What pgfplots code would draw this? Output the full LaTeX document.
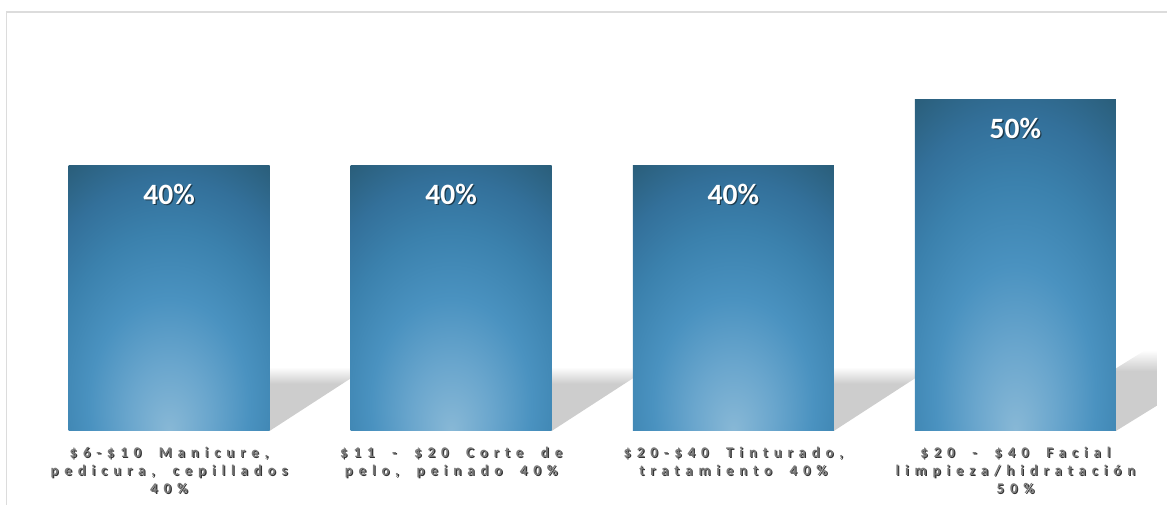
\documentclass[border=0pt]{standalone}
\usepackage{pgfplots}
\pgfplotsset{compat=1.18}
\usepackage{fontspec}
\setmainfont{Carlito}
\newfontfamily\lblfont{Carlito}[LetterSpace=40, WordSpace=1.9, BoldFont={Carlito Bold}]
\definecolor{b0}{HTML}{88B8D6}
\definecolor{b1}{HTML}{6AA6CD}
\definecolor{b2}{HTML}{4A92C0}
\definecolor{b3}{HTML}{3B81AD}
\definecolor{b4}{HTML}{33709A}
\definecolor{b5}{HTML}{2A5E7A}
\definecolor{b6}{HTML}{275873}
\definecolor{shc}{HTML}{CDCDCD}
\definecolor{lblc}{HTML}{7A7A7A}
\definecolor{lshc}{HTML}{333333}
\definecolor{dshc}{HTML}{1D3A4C}
\definecolor{framec}{HTML}{DCDCDC}
\pgfdeclareradialshading{barsh}{\pgfpoint{0bp}{-25bp}}{color(0bp)=(b0); color(10bp)=(b1); color(20bp)=(b2); color(30bp)=(b3); color(38bp)=(b4); color(46bp)=(b5); color(54bp)=(b6); color(100bp)=(b6)}
\pgfdeclareverticalshading{shfade}{100bp}{color(0bp)=(shc); color(25bp)=(shc); color(62bp)=(shc); color(75bp)=(white); color(100bp)=(white)}
\newcommand\lsh[1]{\makebox[0pt][l]{\kern1.1pt\raisebox{-1.1pt}{\color{lshc}\begin{tabular}{@{}c@{}}#1\end{tabular}}}\begin{tabular}{@{}c@{}}#1\end{tabular}}
\newcommand\dsh[1]{\makebox[0pt][l]{\kern1.3pt\raisebox{-1.3pt}{\color{dshc}#1}}#1}
\begin{document}
\begin{tikzpicture}
\useasboundingbox (-28pt,-74pt) rectangle (1139pt,431pt);
\clip (-28pt,-74pt) rectangle (1139pt,431pt);
\begin{axis}[
  at={(0pt,0pt)}, anchor=south west,
  scale only axis, width=1128.5pt, height=397.5pt,
  xmin=-0.5, xmax=3.5, ymin=0, ymax=60,
  axis line style={draw=none}, tick style={draw=none},
  ytick=\empty, xtick={0,1,2,3},
  xticklabels={
    {\lsh{\$6-\$10 Manicure,\\pedicura, cepillados\\40\%}},
    {\lsh{\$11 - \$20 Corte de\\pelo, peinado 40\%}},
    {\lsh{\$20-\$40 Tinturado,\\tratamiento 40\%}},
    {\lsh{\$20 - \$40 Facial\\limpieza/hidratación\\50\%}}},
  xticklabel style={anchor=north, inner sep=0pt, yshift=-13.9pt,
    font=\lblfont\bfseries\fontsize{14.8}{18}\selectfont, text=lblc},
  barstyle/.style={ybar, bar width=201pt, bar shift=0pt, draw=none, shading=barsh, shade},
]
% perspective shadows
\addplot[draw=none, shading=shfade, shade] coordinates {(0,0) (0.356,0) (0.706,9.66) (0.35,9.66)};
\addplot[draw=none, shading=shfade, shade] coordinates {(1,0) (1.356,0) (1.706,9.66) (1.35,9.66)};
\addplot[draw=none, shading=shfade, shade] coordinates {(2,0) (2.356,0) (2.706,9.66) (2.35,9.66)};
\addplot[draw=none, shading=shfade, shade] coordinates {(3,0) (3.356,0) (3.82,12.2) (3.46,12.2)};
% bars (one plot per bar so each gets its own shading)
\addplot[barstyle] coordinates {(0,40)};
\addplot[barstyle] coordinates {(1,40)};
\addplot[barstyle] coordinates {(2,40)};
\addplot[barstyle] coordinates {(3,50)};
% value labels
\addplot[draw=none, mark=none, point meta=explicit symbolic,
  nodes near coords={\dsh{\pgfplotspointmeta\%}},
  nodes near coords style={anchor=north, inner sep=0pt, yshift=-18pt, text=white,
    font=\bfseries\fontsize{29.5}{30}\selectfont}]
  coordinates {(0,40) [40] (1,40) [40] (2,40) [40] (3,50) [50]};
\end{axis}
\draw[color=framec, line width=1.5pt] (-21.5pt,-120pt) -- (-21.5pt,419pt) -- (1200pt,419pt);
\end{tikzpicture}
\end{document}
